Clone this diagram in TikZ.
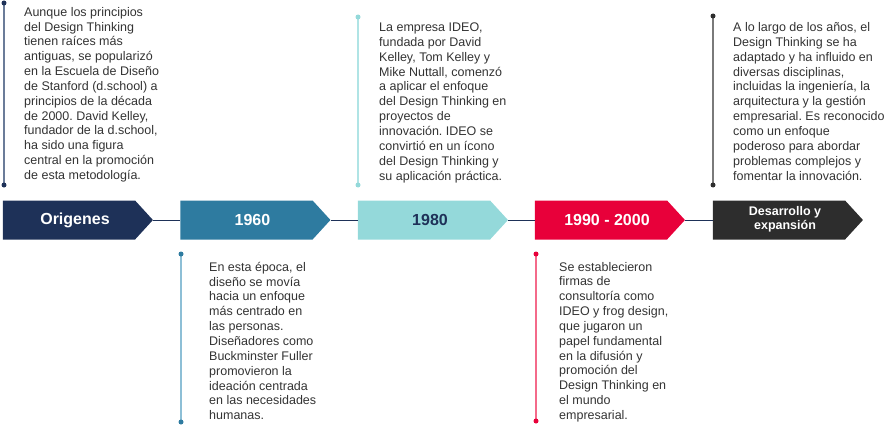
\documentclass[tikz,border=0pt]{standalone}
\usepackage{fontspec}
\setmainfont{Liberation Sans}
\usetikzlibrary{shapes.symbols}
\definecolor{cnavy}{HTML}{1E3158}
\definecolor{cblue}{HTML}{2E7BA0}
\definecolor{ccyan}{HTML}{94D9DA}
\definecolor{cred}{HTML}{E8003A}
\definecolor{cdark}{HTML}{2D2D2D}
\definecolor{ctext}{HTML}{333333}
\frenchspacing
\begin{document}
\begin{tikzpicture}[x=1pt,y=-1pt,
	stage/.style={shape=signal, signal to=east, signal pointer angle=95, minimum width=150pt, minimum height=39pt, inner sep=0pt, text=white, font=\bfseries\fontsize{16}{16}\selectfont, execute at begin node={\hspace*{12pt}}},
	link/.style={cnavy, line width=1pt},
	stem/.style={line width=2pt},
	note/.style={anchor=base west, inner sep=0pt, align=left, text=ctext, font=\fontsize{12.5}{14.85}\selectfont}]
	\useasboundingbox (0,0) rectangle (893,433);
	\node [stage, fill=cnavy] (origenes) at (69,220) {Origenes};
	\node [stage, fill=cblue] (y1960) at (246.5,220) {1960};
	\node [stage, fill=ccyan, text=cnavy] (y1980) at (424,220) {1980};
	\node [stage, fill=cred] (y1990) at (601,220) {1990 - 2000};
	\node [stage, fill=cdark, font=\bfseries\fontsize{12.5}{13.5}\selectfont] (desarrollo) at (779,220) {\begin{tabular}{@{}c@{}}Desarrollo y\\expansión\end{tabular}};
	\draw [link] (origenes.east) -- (y1960.west);
	\draw [link] (y1960.east) -- (y1980.west);
	\draw [link] (y1980.east) -- (y1990.west);
	\draw [link] (y1990.east) -- (desarrollo.west);
	\coordinate (origenes top) at (4,3);
	\coordinate (origenes bot) at (4,185);
	\draw [stem, color={rgb,255:red,107;green,124;blue,153}] (origenes top) -- (origenes bot);
	\fill [cnavy] (origenes top) circle (2.5pt);
	\fill [cnavy] (origenes bot) circle (2.5pt);
	\coordinate (y1960 top) at (181,254);
	\coordinate (y1960 bot) at (181,422);
	\draw [stem, color={rgb,255:red,141;green,191;blue,214}] (y1960 top) -- (y1960 bot);
	\fill [cblue] (y1960 top) circle (2.5pt);
	\fill [cblue] (y1960 bot) circle (2.5pt);
	\coordinate (y1980 top) at (358,17);
	\coordinate (y1980 bot) at (358,185);
	\draw [stem, color={rgb,255:red,176;green,228;blue,229}] (y1980 top) -- (y1980 bot);
	\fill [ccyan] (y1980 top) circle (2.5pt);
	\fill [ccyan] (y1980 bot) circle (2.5pt);
	\coordinate (y1990 top) at (536,254);
	\coordinate (y1990 bot) at (536,421);
	\draw [stem, color={rgb,255:red,244;green,106;blue,138}] (y1990 top) -- (y1990 bot);
	\fill [cred] (y1990 top) circle (2.5pt);
	\fill [cred] (y1990 bot) circle (2.5pt);
	\coordinate (desarrollo top) at (713,16);
	\coordinate (desarrollo bot) at (713,185);
	\draw [stem, color={rgb,255:red,122;green,122;blue,122}] (desarrollo top) -- (desarrollo bot);
	\fill [cdark] (desarrollo top) circle (2.5pt);
	\fill [cdark] (desarrollo bot) circle (2.5pt);
	\node [note] (origenes text) at (24,179.5) {Aunque los principios\\del Design Thinking\\tienen raíces más\\antiguas, se popularizó\\en la Escuela de Diseño\\de Stanford (d.school) a\\principios de la década\\de 2000. David Kelley,\\fundador de la d.school,\\ha sido una figura\\central en la promoción\\de esta metodología.};
	\node [note] (y1960 text) at (209,419.7) {En esta época, el\\diseño se movía\\hacia un enfoque\\más centrado en\\las personas.\\Diseñadores como\\Buckminster Fuller\\promovieron la\\ideación centrada\\en las necesidades\\humanas.};
	\node [note] (y1980 text) at (379,180) {La empresa IDEO,\\fundada por David\\Kelley, Tom Kelley y\\Mike Nuttall, comenzó\\a aplicar el enfoque\\del Design Thinking en\\proyectos de\\innovación. IDEO se\\convirtió en un ícono\\del Design Thinking y\\su aplicación práctica.};
	\node [note] (y1990 text) at (559,419.5) {Se establecieron\\firmas de\\consultoría como\\IDEO y frog design,\\que jugaron un\\papel fundamental\\en la difusión y\\promoción del\\Design Thinking en\\el mundo\\empresarial.};
	\node [note] (desarrollo text) at (733,180) {A lo largo de los años, el\\Design Thinking se ha\\adaptado y ha influido en\\diversas disciplinas,\\incluidas la ingeniería, la\\arquitectura y la gestión\\empresarial. Es reconocido\\como un enfoque\\poderoso para abordar\\problemas complejos y\\fomentar la innovación.};
\end{tikzpicture}
\end{document}
